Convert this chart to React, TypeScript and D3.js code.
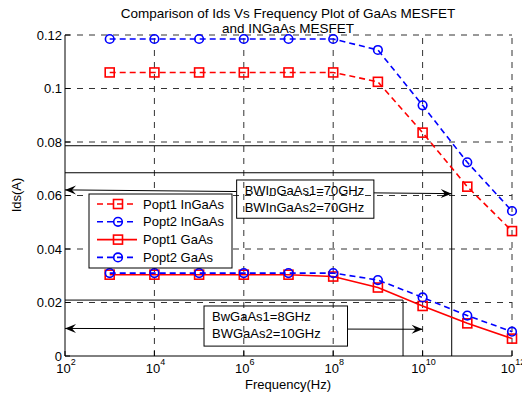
import * as d3 from 'd3';

// frequency (Hz) of each sample
const freqs = [1e3, 1e4, 1e5, 1e6, 1e7, 1e8, 1e9, 1e10, 1e11, 1e12];

// Ids (A) per series
const popt1InGaAs = [0.106, 0.106, 0.106, 0.106, 0.106, 0.106, 0.1025, 0.0835, 0.0633, 0.0467];
const popt2InGaAs = [0.1185, 0.1185, 0.1185, 0.1185, 0.1185, 0.1185, 0.1144, 0.0937, 0.0724, 0.0542];
const popt1GaAs = [0.0304, 0.0304, 0.0304, 0.0304, 0.0304, 0.0297, 0.0256, 0.0187, 0.0122, 0.0065];
const popt2GaAs = [0.031, 0.031, 0.031, 0.031, 0.031, 0.031, 0.0284, 0.0219, 0.0151, 0.0091];

const xTickExps = [2, 4, 6, 8, 10, 12];
const yTicks = [0, 0.02, 0.04, 0.06, 0.08, 0.1, 0.12];
const yTickLabels = ['0', '0.02', '0.04', '0.06', '0.08', '0.1', '0.12'];

const legendLabels = ['Popt1 InGaAs', 'Popt2 InGaAs', 'Popt1 GaAs', 'Popt2 GaAs'];

// annotation lines drawn on the plot (data units)
const bwInGaAsFreq = 4.48e10;
const bwGaAsFreq = 3.65e9;
const hLines = [
  { x1: 1e2, x2: bwInGaAsFreq, y: 0.0786 },
  { x1: 1e2, x2: bwInGaAsFreq, y: 0.0685 },
  { x1: 1e2, x2: bwGaAsFreq, y: 0.0209 },
];
const vLines = [
  { x: bwInGaAsFreq, y1: 0.0786, y2: 0 },
  { x: bwGaAsFreq, y1: 0.0209, y2: 0 },
];

const boxes = [
  {
    x1: 10 ** 5.84, x2: 10 ** 8.91, y1: 0.0658, y2: 0.0515,
    lines: ['BWInGaAs1=70GHz', 'BWInGaAs2=70GHz'],
    arrow: { x1: 1e2, y1: 0.0621, x2: bwInGaAsFreq, y2: 0.0607 },
  },
  {
    x1: 10 ** 5.11, x2: 10 ** 8.32, y1: 0.0187, y2: 0.0037,
    lines: ['BwGaAs1=8GHz', 'BWGaAs2=10GHz'],
    arrow: { x1: 1e2, y1: 0.0103, x2: 1e10, y2: 0.01 },
  },
];

const RED = '#ff0000';
const BLUE = '#0000ff';
const FONT = 'Liberation Sans, Arial, sans-serif';

const series = [
  { values: popt1InGaAs, color: RED, dash: '6,4', marker: 'square' },
  { values: popt2InGaAs, color: BLUE, dash: '6,4', marker: 'circle' },
  { values: popt1GaAs, color: RED, dash: null, marker: 'square' },
  { values: popt2GaAs, color: BLUE, dash: '6,4', marker: 'circle' },
];

function Marker({ kind, x, y, color }: { kind: string; x: number; y: number; color: string }) {
  if (kind === 'square') {
    return <rect x={x - 4.5} y={y - 4.5} width={9} height={9} fill="none" stroke={color} strokeWidth={1.6} />;
  }
  return <circle cx={x} cy={y} r={4.3} fill="none" stroke={color} strokeWidth={1.6} />;
}

function ArrowHead({ x, y, angle }: { x: number; y: number; angle: number }) {
  return (
    <path
      d="M0,0 L-11,-4.5 L-7,0 L-11,4.5 Z"
      transform={`translate(${x},${y}) rotate(${angle})`}
      fill="#000"
    />
  );
}

export default function App() {
  const left = 65, right = 512, top = 35, bottom = 356;
  const x = d3.scaleLog().domain([1e2, 1e12]).range([left, right]);
  const y = d3.scaleLinear().domain([0, 0.12]).range([bottom, top]);

  const line = d3
    .line<number>()
    .x((_d, i) => x(freqs[i]))
    .y((d) => y(d));

  const legend = { x: 89, y: 194, w: 143, h: 74 };

  return (
    <svg
      width={522}
      height={396}
      style={{ position: 'absolute', left: 0, top: 0, background: '#fff' }}
      fontFamily={FONT}
    >
      <rect width={522} height={396} fill="#fff" />

      {/* grid */}
      <g stroke="#333" strokeWidth={1} strokeDasharray="6,6">
        {xTickExps.slice(1).map((e) => (
          <line key={e} x1={x(10 ** e)} x2={x(10 ** e)} y1={bottom} y2={top} />
        ))}
        {yTicks.slice(1).map((t) => (
          <line key={t} x1={left} x2={right} y1={y(t)} y2={y(t)} />
        ))}
      </g>

      {/* annotation lines */}
      <g stroke="#000" strokeWidth={1}>
        {hLines.map((l, i) => (
          <line key={i} x1={x(l.x1)} x2={x(l.x2)} y1={y(l.y)} y2={y(l.y)} />
        ))}
        {vLines.map((l, i) => (
          <line key={i} x1={x(l.x)} x2={x(l.x)} y1={y(l.y1)} y2={y(l.y2)} />
        ))}
      </g>

      {/* text boxes with double arrows */}
      {boxes.map((b, i) => {
        const bx1 = x(b.x1), bx2 = x(b.x2), by1 = y(b.y1), by2 = y(b.y2);
        const ax1 = x(b.arrow.x1), ay1 = y(b.arrow.y1), ax2 = x(b.arrow.x2), ay2 = y(b.arrow.y2);
        const at = (px: number) => ay1 + ((px - ax1) / (ax2 - ax1)) * (ay2 - ay1);
        const ang = (Math.atan2(ay2 - ay1, ax2 - ax1) * 180) / Math.PI;
        return (
          <g key={i}>
            <line x1={ax1} y1={ay1} x2={bx1} y2={at(bx1)} stroke="#000" strokeWidth={1} />
            <line x1={bx2} y1={at(bx2)} x2={ax2} y2={ay2} stroke="#000" strokeWidth={1} />
            <ArrowHead x={ax1} y={ay1} angle={ang + 180} />
            <ArrowHead x={ax2} y={ay2} angle={ang} />
            <rect x={bx1} y={by1} width={bx2 - bx1} height={by2 - by1} fill="none" stroke="#000" strokeWidth={1} />
            {b.lines.map((t, j) => (
              <text key={j} x={bx1 + 8} y={by1 + 15.5 + j * 16.3} fontSize={13} fill="#000">
                {t}
              </text>
            ))}
          </g>
        );
      })}

      {/* series */}
      {series.map((s, i) => (
        <g key={i}>
          <path
            d={line(s.values) ?? ''}
            fill="none"
            stroke={s.color}
            strokeWidth={1.6}
            strokeDasharray={s.dash ?? undefined}
          />
          {s.values.map((v, j) => (
            <Marker key={j} kind={s.marker} x={x(freqs[j])} y={y(v)} color={s.color} />
          ))}
        </g>
      ))}

      {/* axes */}
      <g stroke="#000" strokeWidth={1}>
        <line x1={left} x2={left} y1={top} y2={bottom} />
        <line x1={left} x2={right} y1={bottom} y2={bottom} />
        {yTicks.map((t) => (
          <line key={t} x1={left} x2={left + 5} y1={y(t)} y2={y(t)} />
        ))}
        {xTickExps.map((e) => (
          <line key={e} x1={x(10 ** e)} x2={x(10 ** e)} y1={bottom} y2={bottom - 5} />
        ))}
      </g>
      {yTicks.map((t, i) => (
        <text key={t} x={left - 3} y={y(t) + 4.5} fontSize={13} textAnchor="end" fill="#000">
          {yTickLabels[i]}
        </text>
      ))}
      {xTickExps.map((e) => (
        <text key={e} x={x(10 ** e) + 1} y={373} fontSize={13} textAnchor="middle" fill="#000">
          10
          <tspan fontSize={9} dy={-8}>
            {e}
          </tspan>
        </text>
      ))}

      {/* labels */}
      <text x={288} y={18} fontSize={13.5} textAnchor="middle" fill="#000">
        Comparison of Ids Vs Frequency Plot of GaAs MESFET
      </text>
      <text x={288} y={32.5} fontSize={13.5} textAnchor="middle" fill="#000">
        and INGaAs MESFET
      </text>
      <text x={288} y={389} fontSize={13} textAnchor="middle" fill="#000">
        Frequency(Hz)
      </text>
      <text transform="translate(21,195) rotate(-90)" fontSize={13} textAnchor="middle" fill="#000">
        Ids(A)
      </text>

      {/* legend */}
      <g>
        <rect x={legend.x} y={legend.y} width={legend.w} height={legend.h} fill="#fff" stroke="#000" strokeWidth={1} />
        {series.map((s, i) => {
          const ly = legend.y + 10 + i * 17.8;
          return (
            <g key={i}>
              <line
                x1={legend.x + 8}
                x2={legend.x + 48}
                y1={ly}
                y2={ly}
                stroke={s.color}
                strokeWidth={1.6}
                strokeDasharray={s.dash ?? undefined}
              />
              <Marker kind={s.marker} x={legend.x + 29} y={ly} color={s.color} />
              <text x={legend.x + 54} y={ly + 4.5} fontSize={13} fill="#000">
                {legendLabels[i]}
              </text>
            </g>
          );
        })}
      </g>
    </svg>
  );
}
